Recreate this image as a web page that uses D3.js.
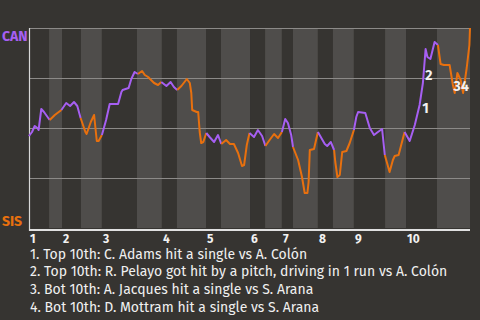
<!DOCTYPE html>
<html>
<head>
<meta charset="utf-8">
<script src="https://cdn.jsdelivr.net/npm/d3@7"></script>
<style>
body { margin:0; background:#363431; overflow:hidden; }
text { font-family: "Fira Sans", Roboto, "Noto Sans", sans-serif; }
</style>
</head>
<body>
<div id="chart"></div>
<script>
// play number along the game, and CAN win probability after it
var plays = [0, 1.0, 1.9, 2.8, 3.2, 4.1, 5.0, 6.9, 8.6, 10.8,
	12.4, 13.7, 15.0, 16.1, 17.2, 18.8, 19.2, 20.6, 21.7, 22.6,
	23.2, 24.3, 25.7, 26.9, 29.7, 30.8, 31.2, 33.2, 34.1, 35.2,
	36.3, 37.7, 38.6, 39.7, 41.7, 43.0, 44.1, 45.8, 47.2, 48.3,
	49.4, 50.8, 52.6, 53.6, 54.1, 54.4, 55.9, 56.4, 56.9, 57.4,
	58.1, 59.1, 60.2, 61.7, 63.0, 64.1, 65.7, 67.0, 68.3, 69.7,
	71.0, 71.7, 72.6, 73.5, 75.0, 76.3, 77.7, 78.8, 80.2, 81.7,
	83.0, 84.3, 85.4, 86.3, 87.4, 88.0, 89.7, 91.0, 91.9, 92.8,
	93.2, 93.6, 95.0, 96.3, 98.6, 99.4, 100.6, 101.7, 102.1, 102.8,
	103.6, 104.4, 105.8, 106.9, 108.3, 109.1, 109.7, 112.1, 113.6, 115.0,
	116.3, 117.7, 118.6, 120.2, 121.3, 121.9, 123.2, 125.2, 126.9, 128.6,
	130.2, 131.3, 132.2, 132.8, 133.8, 135.2, 136.3, 137.2, 138.3, 140.2,
	141.3, 141.9, 142.8, 143.9, 144.7, 145.9, 146.8, 147];
var canWinProb = [0.46, 0.48, 0.51, 0.50, 0.49, 0.595, 0.58, 0.54, 0.565, 0.59,
	0.625, 0.61, 0.63, 0.61, 0.55, 0.48, 0.47, 0.53, 0.565, 0.435,
	0.435, 0.465, 0.54, 0.62, 0.62, 0.68, 0.69, 0.70, 0.745, 0.78,
	0.77, 0.785, 0.765, 0.755, 0.725, 0.715, 0.73, 0.71, 0.73, 0.705,
	0.69, 0.71, 0.745, 0.725, 0.675, 0.59, 0.58, 0.58, 0.48, 0.425,
	0.43, 0.475, 0.455, 0.43, 0.465, 0.42, 0.44, 0.42, 0.42, 0.375,
	0.31, 0.315, 0.415, 0.475, 0.455, 0.49, 0.46, 0.41, 0.44, 0.47,
	0.45, 0.48, 0.545, 0.525, 0.465, 0.405, 0.34, 0.255, 0.175, 0.175,
	0.23, 0.39, 0.395, 0.48, 0.42, 0.41, 0.43, 0.39, 0.33, 0.255,
	0.265, 0.38, 0.385, 0.425, 0.49, 0.555, 0.58, 0.575, 0.50, 0.465,
	0.48, 0.495, 0.365, 0.28, 0.34, 0.36, 0.365, 0.48, 0.435, 0.515,
	0.615, 0.725, 0.895, 0.855, 0.845, 0.93, 0.915, 0.82, 0.815, 0.815,
	0.715, 0.675, 0.775, 0.74, 0.675, 0.80, 0.915, 1.0];

// play number where each half inning starts (top 1st ... bottom 10th, then end)
var halfStarts = [0, 6.7, 11, 17.3, 24.3, 36, 44.3, 49.3, 59, 64,
	73.7, 78.7, 84.3, 88, 96.3, 101.3, 108.3, 118.7, 125.7, 136, 147];
var innings = ["1", "2", "3", "4", "5", "6", "7", "8", "9", "10"];

var teams = ["CAN", "SIS"];
var teamColors = ["#a65ff2", "#e8700e"];

var noteMarks = ["1", "2", "3", "4"];
var notePlay = [132.2, 133.3, 142.7, 145.3];
var noteProb = [0.60, 0.765, 0.71, 0.71];
var notes = [
	"1. Top 10th: C. Adams hit a single vs A. Colón",
	"2. Top 10th: R. Pelayo got hit by a pitch, driving in 1 run vs A. Colón",
	"3. Bot 10th: A. Jacques hit a single vs S. Arana",
	"4. Bot 10th: D. Mottram hit a single vs S. Arana"
];

var margin = { left:29, right:10, top:28, bottom:92 };
var width = 480 - margin.left - margin.right,
	height = 320 - margin.top - margin.bottom;

var svg = d3.select("#chart")
	.append("svg")
	.attr("width", 480)
	.attr("height", 320);

var g = svg.append("g")
	.attr("transform", "translate(" + margin.left + ", " + margin.top + ")");

var x = d3.scaleLinear()
	.domain([0, 147])
	.range([0, width]);

var y = d3.scaleLinear()
	.domain([0, 1])
	.range([height, 0]);

// half inning shading
g.selectAll("rect.half")
	.data(d3.range(halfStarts.length - 1))
	.enter()
	.append("rect")
		.attr("class", "half")
		.attr("x", function(i){ return x(halfStarts[i]); })
		.attr("y", 0)
		.attr("width", function(i){ return x(halfStarts[i + 1]) - x(halfStarts[i]); })
		.attr("height", height)
		.attr("fill", function(i){ return i % 2 ? "#4f4d4b" : "#363431"; });

// grid lines
g.selectAll("line.grid")
	.data([0.25, 0.5, 0.75, 1])
	.enter()
	.append("line")
		.attr("class", "grid")
		.attr("x1", 0)
		.attr("x2", width)
		.attr("y1", function(d){ return y(d) + 0.5; })
		.attr("y2", function(d){ return y(d) + 0.5; })
		.attr("stroke", "#8c8a88")
		.attr("stroke-width", 1);

// axes
g.append("line")
	.attr("x1", 0.5).attr("x2", 0.5)
	.attr("y1", 0).attr("y2", height + 3)
	.attr("stroke", "#d8d8d8")
	.attr("stroke-width", 1.2);
g.append("line")
	.attr("x1", 0).attr("x2", width)
	.attr("y1", height + 2).attr("y2", height + 2)
	.attr("stroke", "#e0e0e0")
	.attr("stroke-width", 2);

g.selectAll("text.inning")
	.data(innings)
	.enter()
	.append("text")
		.attr("class", "inning")
		.attr("x", function(d, i){ return x(halfStarts[i * 2]) + 1; })
		.attr("y", height + 14.5)
		.attr("font-size", "12px")
		.attr("font-weight", "bold")
		.attr("fill", "#f2f2f2")
		.text(function(d){ return d; });

// team labels
svg.selectAll("text.team")
	.data(teams)
	.enter()
	.append("text")
		.attr("class", "team")
		.attr("x", 2)
		.attr("y", function(d, i){ return i ? 226 : 40.5; })
		.attr("font-size", "14px")
		.attr("font-weight", "bold")
		.attr("fill", function(d, i){ return teamColors[i]; })
		.text(function(d){ return d; });

// split the line in runs of the same batting team
function halfOf(p){
	return d3.bisectRight(halfStarts, p) - 1;
}
var runs = [];
for (var i = 1; i < plays.length; i++) {
	var side = halfOf((plays[i - 1] + plays[i]) / 2) % 2;
	var last = runs[runs.length - 1];
	if (!last || last.side != side) {
		last = { side: side, pts: [[plays[i - 1], canWinProb[i - 1]]] };
		runs.push(last);
	}
	last.pts.push([plays[i], canWinProb[i]]);
}

var line = d3.line()
	.x(function(d){ return x(d[0]); })
	.y(function(d){ return y(d[1]); });

g.selectAll("path.wp")
	.data(runs)
	.enter()
	.append("path")
		.attr("class", "wp")
		.attr("d", function(d){ return line(d.pts); })
		.attr("fill", "none")
		.attr("stroke", function(d){ return teamColors[d.side]; })
		.attr("stroke-width", 2)
		.attr("stroke-linejoin", "round");

// note markers
g.selectAll("text.mark")
	.data(noteMarks)
	.enter()
	.append("text")
		.attr("class", "mark")
		.attr("x", function(d, i){ return x(notePlay[i]); })
		.attr("y", function(d, i){ return y(noteProb[i]) + 5; })
		.attr("text-anchor", "middle")
		.attr("font-size", "14px")
		.attr("font-weight", "bold")
		.attr("fill", "#f2f2f2")
		.text(function(d){ return d; });

svg.selectAll("text.note")
	.data(notes)
	.enter()
	.append("text")
		.attr("class", "note")
		.attr("x", 30)
		.attr("y", function(d, i){ return 258.5 + i * 17.8; })
		.attr("font-size", "14px")
		.attr("fill", "#f0f0f0")
		.text(function(d){ return d; });
</script>
</body>
</html>
